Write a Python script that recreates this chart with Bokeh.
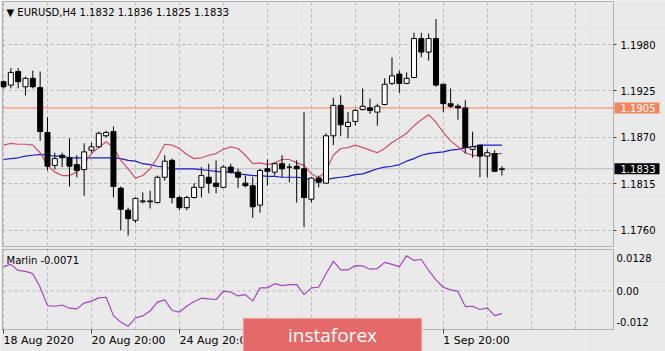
from bokeh.plotting import figure
from bokeh.models import (Range1d, FixedTicker, Grid, Label, LabelSet, LinearAxis,
                          BoxAnnotation, ColumnDataSource)
from bokeh.core.properties import value
from bokeh.embed import file_html
from bokeh.resources import INLINE

# ---------------- data ----------------
symbol = "EURUSD,H4"
opens = [1.1936,1.1932,1.1948,1.1930,1.1940,1.1929,1.1876,1.1837,1.1849,1.1846,
         1.1838,1.1832,1.1855,1.1859,1.1872,1.1877,1.1810,1.1784,1.1772,1.1794,
         1.1795,1.1793,1.1823,1.1843,1.1799,1.1787,1.1799,1.1811,1.1823,1.1816,
         1.1811,1.1835,1.1829,1.1816,1.1813,1.1790,1.1833,1.1829,1.1839,1.1835,
         1.1836,1.1833,1.1797,1.1822,1.1816,1.1872,1.1908,1.1883,1.1889,1.1903,
         1.1905,1.1900,1.1909,1.1934,1.1945,1.1934,1.1941,1.1987,1.1971,1.1987,
         1.1933,1.1910,1.1907,1.1905,1.1856,1.1861,1.1848,1.1851,1.1832]
highs = [1.1937,1.1952,1.1952,1.1942,1.1949,1.1948,1.1894,1.1852,1.1852,1.1869,
         1.1849,1.1863,1.1864,1.1877,1.1878,1.1883,1.1812,1.1787,1.1799,1.1805,
         1.1807,1.1825,1.1849,1.1845,1.1801,1.1801,1.1816,1.1835,1.1839,1.1843,
         1.1837,1.1839,1.1833,1.1825,1.1823,1.1833,1.1844,1.1840,1.1849,1.1839,
         1.1843,1.1900,1.1823,1.1825,1.1875,1.1917,1.1920,1.1900,1.1904,1.1928,
         1.1916,1.1910,1.1940,1.1965,1.1949,1.1947,1.1994,1.1994,1.1993,1.2010,
         1.1933,1.1928,1.1910,1.1914,1.1877,1.1861,1.1856,1.1855,1.1836]
lows = [1.1928,1.1928,1.1928,1.1920,1.1928,1.1866,1.1831,1.1832,1.1835,1.1812,
        1.1823,1.1801,1.1852,1.1858,1.1870,1.1799,1.1760,1.1754,1.1769,1.1792,
        1.1786,1.1792,1.1819,1.1792,1.1784,1.1784,1.1798,1.1799,1.1804,1.1804,
        1.1810,1.1827,1.1810,1.1811,1.1775,1.1781,1.1813,1.1825,1.1823,1.1817,
        1.1793,1.1764,1.1793,1.1811,1.1816,1.1861,1.1872,1.1869,1.1884,1.1902,
        1.1898,1.1884,1.1908,1.1932,1.1923,1.1933,1.1940,1.1965,1.1961,1.1930,
        1.1900,1.1905,1.1891,1.1851,1.1846,1.1823,1.1823,1.1829,1.1825]
closes = [1.1930,1.1947,1.1936,1.1940,1.1930,1.1877,1.1836,1.1845,1.1846,1.1836,
          1.1831,1.1853,1.1859,1.1875,1.1876,1.1812,1.1785,1.1774,1.1798,1.1795,
          1.1794,1.1823,1.1842,1.1799,1.1787,1.1799,1.1811,1.1825,1.1816,1.1812,
          1.1835,1.1829,1.1823,1.1813,1.1788,1.1831,1.1830,1.1839,1.1833,1.1835,
          1.1833,1.1799,1.1822,1.1817,1.1872,1.1908,1.1885,1.1888,1.1902,1.1907,
          1.1902,1.1907,1.1933,1.1943,1.1934,1.1940,1.1987,1.1971,1.1987,1.1932,
          1.1910,1.1907,1.1905,1.1858,1.1859,1.1848,1.1852,1.1830,1.1833]
ma_red = [1.1861,1.1863,1.1862,1.1862,1.1861,1.1852,1.1837,1.1829,1.1825,1.1825,
          1.1829,1.1839,1.1851,1.1858,1.1865,1.1858,1.1843,1.1833,1.1822,1.1825,
          1.1833,1.1846,1.1862,1.1861,1.1857,1.1850,1.1845,1.1846,1.1849,1.1851,
          1.1856,1.1859,1.1857,1.1849,1.1839,1.1840,1.1838,1.1840,1.1844,1.1844,
          1.1840,1.1837,1.1827,1.1822,1.1831,1.1849,1.1857,1.1858,1.1861,1.1858,
          1.1855,1.1852,1.1857,1.1864,1.1869,1.1875,1.1884,1.1891,1.1897,1.1888,
          1.1876,1.1866,1.1859,1.1852,1.1849,1.1848,1.1850,1.1851,1.1851]
ma_blue = [1.1844,1.1845,1.1846,1.1848,1.1849,1.1850,1.1849,1.1848,1.1848,1.1846,
           1.1846,1.1846,1.1846,1.1846,1.1846,1.1846,1.1845,1.1843,1.1842,1.1839,
           1.1838,1.1836,1.1835,1.1833,1.1833,1.1833,1.1833,1.1832,1.1831,1.1830,
           1.1829,1.1829,1.1827,1.1826,1.1825,1.1825,1.1824,1.1824,1.1823,1.1823,
           1.1823,1.1822,1.1820,1.1819,1.1820,1.1822,1.1823,1.1824,1.1826,1.1827,
           1.1830,1.1833,1.1835,1.1836,1.1838,1.1842,1.1845,1.1849,1.1851,1.1852,
           1.1853,1.1855,1.1856,1.1858,1.1859,1.1861,1.1861,1.1861,1.1861]
marlin = [0.0075,0.0082,0.0063,0.0060,0.0053,0.0011,-0.0046,-0.0048,-0.0044,-0.0054,
          -0.0056,-0.0038,-0.0032,-0.0022,-0.0020,-0.0077,-0.0097,-0.0110,-0.0084,-0.0078,
          -0.0063,-0.0035,-0.0028,-0.0061,-0.0066,-0.0048,-0.0033,-0.0023,-0.0025,-0.0027,
          -0.0001,-0.0004,-0.0016,-0.0012,-0.0032,0.0009,0.0009,0.0022,0.0016,0.0019,
          0.0019,-0.0012,0.0009,0.0011,0.0053,0.0092,0.0065,0.0065,0.0078,0.0077,
          0.0067,0.0069,0.0088,0.0082,0.0075,0.0109,0.0094,0.0097,0.0063,0.0034,
          0.0011,0.0003,-0.0002,-0.0049,-0.0048,-0.0058,-0.0053,-0.0077,-0.0071]
price_ticks = [1.1760, 1.1815, 1.1870, 1.1925, 1.1980]
level_price = 1.1905
marlin_max, marlin_min = 0.0128, -0.012
x_tick_idx = [0, 12, 24, 60]
x_tick_labels = ["18 Aug 2020", "20 Aug 20:00", "24 Aug 20:00", "1 Sep 20:00"]

# ---------------- layout geometry (pixels) ----------------
W, H = 665, 351
BAR0_PX, PX_PER_BAR = 3.0, 7.33          # x pixel of first bar, bar spacing
REF_PRICE, REF_PX, PX_PER_PRICE = 1.1980, 44.0, 8454.5
MAIN_T, MAIN_B = 1, 246                  # main panel frame rows
SUB_T, SUB_B = 249, 329                  # indicator panel rows
PAN_L, PAN_R = 2, 613                    # panel columns
TAG_L, TAG_R, TAG_HALF = 614, 659, 5.5   # price tag box on the scale

def px2x(px):
    return (px - BAR0_PX) / PX_PER_BAR

def px2price(py):
    return REF_PRICE + (REF_PX - py) / PX_PER_PRICE

def px2m(py):
    return marlin_max - (py - SUB_T) * (marlin_max - marlin_min) / (SUB_B - SUB_T)

BG = "#eaeaea"
GRID = "#b8b8b8"
FONT = "DejaVu Sans"
n = len(closes)
idx = list(range(n))
bid = closes[-1]

src = ColumnDataSource(dict(
    x=idx, o=opens, h=highs, l=lows, c=closes,
    top=[max(a, b) for a, b in zip(opens, closes)],
    bot=[min(a, b) for a, b in zip(opens, closes)],
    fill=["white" if c > o else "black" for o, c in zip(opens, closes)],
))

p = figure(width=W, height=H, output_backend="svg", toolbar_location=None,
           x_range=Range1d(px2x(0), px2x(W)), y_range=Range1d(px2price(H), px2price(0)),
           x_axis_location=None, y_axis_location=None,
           min_border=0, background_fill_color=BG, border_fill_color=BG,
           outline_line_color=None)
p.extra_y_ranges = {"marlin": Range1d(px2m(H), px2m(0))}

xl, xr_ = px2x(PAN_L), px2x(PAN_R)

# grids
vticks = list(range(0, 84, 6))
try:
    p.add_layout(Grid(dimension=0, ticker=FixedTicker(ticks=vticks),
                      cross_bounds=(px2price(SUB_B), px2price(MAIN_T)),
                      grid_line_color=GRID, grid_line_dash="3 3"))
    p.add_layout(Grid(dimension=1, ticker=FixedTicker(ticks=price_ticks),
                      cross_bounds=(xl, xr_),
                      grid_line_color=GRID, grid_line_dash="3 3"))
except Exception:
    p.segment(x0=vticks, x1=vticks, y0=[px2price(SUB_B)] * len(vticks),
              y1=[px2price(MAIN_T)] * len(vticks), line_color=GRID, line_dash="3 3")
    p.segment(x0=[xl] * 5, x1=[xr_] * 5, y0=price_ticks, y1=price_ticks,
              line_color=GRID, line_dash="3 3")
p.segment(x0=[xl], x1=[xr_], y0=[0.0], y1=[0.0], y_range_name="marlin",
          line_color=GRID, line_dash="3 3")

# level & bid lines
p.segment(x0=[xl], x1=[xr_], y0=[level_price], y1=[level_price], line_color="#f4845c", line_width=1)
p.segment(x0=[xl], x1=[xr_], y0=[bid], y1=[bid], line_color="#bdbdbd", line_width=1)

# indicators and candles
p.line(idx, ma_blue, line_color="#1d1dcc", line_width=1.2)
p.line(idx, ma_red, line_color="#d0506a", line_width=1.2)
p.segment(x0="x", y0="l", x1="x", y1="h", source=src, line_color="black", line_width=1)
p.vbar(x="x", width=0.68, top="top", bottom="bot", source=src,
       fill_color="fill", line_color="black", line_width=1)
p.line(idx, marlin, y_range_name="marlin", line_color="#a347c0", line_width=1.2)

# panel borders
p.add_layout(BoxAnnotation(left=xl, right=xr_, top=px2price(MAIN_T), bottom=px2price(MAIN_B),
                           fill_color=None, line_color="#333333", line_width=1))
p.add_layout(BoxAnnotation(left=xl, right=xr_, top=px2price(SUB_T), bottom=px2price(SUB_B),
                           fill_color=None, line_color="#333333", line_width=1))

# axes
def style_axis(ax, tick_out):
    ax.axis_line_color = None
    ax.major_tick_out = tick_out
    ax.major_tick_in = 0
    ax.minor_tick_out = 0
    ax.minor_tick_in = 0
    ax.major_tick_line_color = "#444444"
    ax.major_label_text_font = FONT
    ax.major_label_text_font_size = "10px"
    ax.major_label_text_color = "black"

ya = LinearAxis(ticker=FixedTicker(ticks=price_ticks), fixed_location=xr_,
                major_label_overrides={t: f"{t:.4f}" for t in price_ticks})
style_axis(ya, 3)
ya.major_label_standoff = 4
p.add_layout(ya, "right")

t_top = px2m(SUB_T + 8)
t_bot = px2m(SUB_B - 8)
ma = LinearAxis(y_range_name="marlin", ticker=FixedTicker(ticks=[t_bot, 0.0, t_top]),
                fixed_location=xr_,
                major_label_overrides={t_bot: f"{marlin_min:.3f}", 0.0: "0.00",
                                       t_top: f"{marlin_max:.4f}"})
style_axis(ma, 0)
ma.major_label_standoff = 3
p.add_layout(ma, "right")

# time axis: tick marks from the axis, left-aligned labels (MT4 style) at the same ticks
xa = LinearAxis(ticker=FixedTicker(ticks=x_tick_idx), fixed_location=px2price(SUB_B),
                major_label_overrides={i: "" for i in x_tick_idx})
style_axis(xa, 4)
p.add_layout(xa, "below")
p.add_layout(LabelSet(x="x", y=H - 340, y_units="screen", text="t",
                      source=ColumnDataSource(dict(x=x_tick_idx, t=x_tick_labels)),
                      text_font=value(FONT), text_font_size=value("11px"),
                      text_color="black", text_align="left", text_baseline="middle"))

# price tags on the scale
for price, col in [(level_price, "#f4845c"), (bid, "black")]:
    p.add_layout(BoxAnnotation(left=px2x(TAG_L), right=px2x(TAG_R),
                               top=price + TAG_HALF / PX_PER_PRICE,
                               bottom=price - TAG_HALF / PX_PER_PRICE,
                               fill_color=col, fill_alpha=1.0, line_color=None))
    p.add_layout(Label(x=620, y=price, x_units="screen", text=f"{price:.4f}",
                       text_font=FONT, text_font_size="10px", text_color="white",
                       text_baseline="middle", text_align="left"))

# texts
title = f"\u25BC {symbol}  {opens[-1]:.4f} {highs[-1]:.4f} {lows[-1]:.4f} {closes[-1]:.4f}"
p.add_layout(Label(x=6, y=H - 12, x_units="screen", y_units="screen", text=title,
                   text_font=FONT, text_font_size="10px", text_color="black",
                   text_baseline="middle", text_align="left"))
p.add_layout(Label(x=6, y=H - 260, x_units="screen", y_units="screen",
                   text=f"Marlin {marlin[-1]:.4f}", text_font=FONT, text_font_size="10px",
                   text_color="black", text_baseline="middle", text_align="left"))
p.add_layout(Label(x=332, y=16.5, x_units="screen", y_units="screen", text="instaforex",
                   text_font="Open Sans", text_font_size="19px", text_color="white",
                   text_baseline="middle", text_align="center",
                   background_fill_color="#e46a6a", border_line_color="#f2d6d6",
                   border_line_width=1, padding=(45, 4)))

open("out.html", "w").write(file_html(p, INLINE))
